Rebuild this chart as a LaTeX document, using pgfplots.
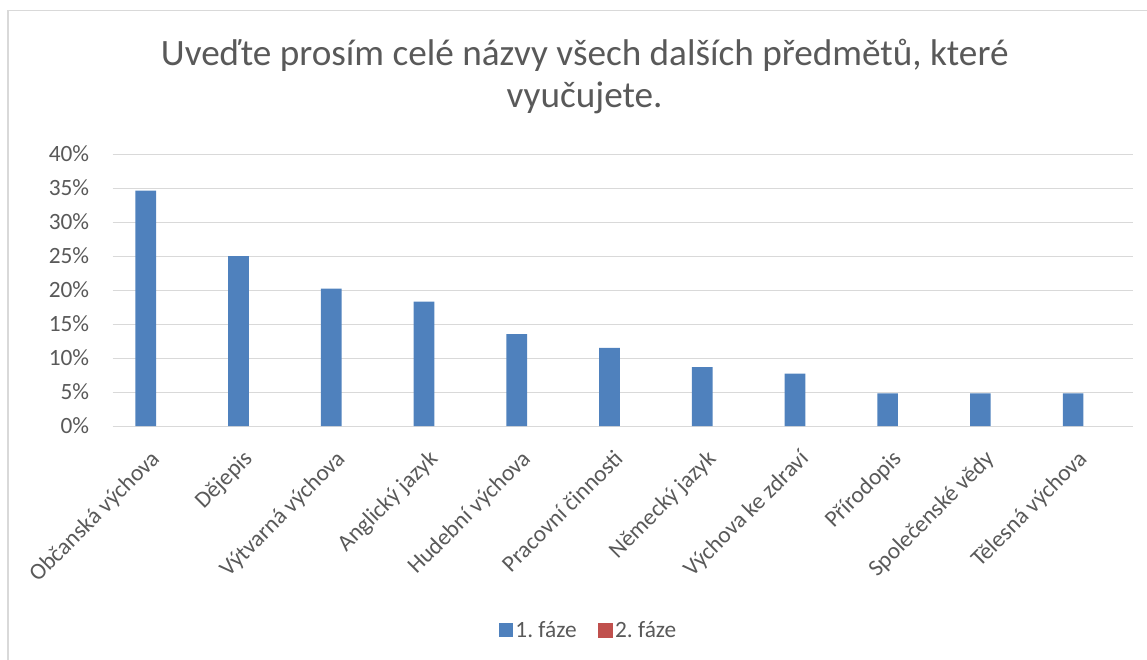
\documentclass[border=0pt]{standalone}
\usepackage{fontspec}
\setmainfont{Carlito}
\usepackage{pgfplots}
\pgfplotsset{compat=1.18}
\frenchspacing
\definecolor{txt}{HTML}{595959}
\definecolor{gridc}{HTML}{D9D9D9}
\definecolor{s1}{HTML}{4F81BD}
\definecolor{s2}{HTML}{C0504D}
\begin{document}
\begin{tikzpicture}
\path[use as bounding box] (0,0) rectangle (860.25pt,-495pt);
\draw[gridc, line width=0.9pt] (6pt,-495pt) -- (6pt,-7.9pt) -- (860.25pt,-7.9pt);
\node[anchor=base, font=\fontsize{27.9}{33}\selectfont, text=txt] at (438.5pt,-49.5pt) {Uveďte prosím celé názvy všech dalších předmětů, které};
\node[anchor=base, font=\fontsize{27.9}{33}\selectfont, text=txt] at (438.5pt,-81pt) {vyučujete.};
\begin{axis}[
  at={(84.4pt,-319.5pt)}, anchor=south west,
  scale only axis, width=765pt, height=204pt,
  ymin=0, ymax=40, ytick={0,5,...,40},
  xmin=-0.5, xmax=10.5,
  xtick=data,
  xticklabels={Občanská výchova,Dějepis,Výtvarná výchova,Anglický jazyk,Hudební výchova,Pracovní činnosti,Německý jazyk,Výchova ke zdraví,Přírodopis,Společenské vědy,Tělesná výchova},
  yticklabel={\pgfmathprintnumber{\tick}\%},
  /pgf/number format/assume math mode=true,
  ymajorgrids, grid style={gridc, line width=0.75pt},
  axis line style={draw=none},
  major tick length=0pt,
  tick label style={font=\fontsize{17.5}{20}\selectfont, text=txt},
  yticklabel style={xshift=-14pt},
  xticklabel style={xshift=-7.3pt, yshift=-12pt, rotate=45, anchor=north east},
  legend style={at={(0.467,-0.75)}, anchor=center, draw=none, fill=none,
    legend columns=2, font=\fontsize{17.5}{20}\selectfont, text=txt},
  ybar, bar width=15.5pt,
]
\addplot[fill=s1, draw=none, bar shift=-9.8pt,
  legend image code/.code={\fill[s1] (0pt,-5.25pt) rectangle (10.5pt,5.25pt);}] coordinates {
(0,34.6) (1,25.0) (2,20.2) (3,18.3) (4,13.5) (5,11.5) (6,8.65) (7,7.7) (8,4.8) (9,4.8) (10,4.8)};
\addlegendentry{1. fáze\kern14pt}
\addplot[fill=none, draw=none, bar shift=9.8pt, forget plot] coordinates {
(0,0) (1,0) (2,0) (3,0) (4,0) (5,0) (6,0) (7,0) (8,0) (9,0) (10,0)};
\addlegendimage{legend image code/.code={\fill[s2] (0pt,-5.25pt) rectangle (10.5pt,5.25pt);}}
\addlegendentry{2. fáze}
\end{axis}
\end{tikzpicture}
\end{document}
